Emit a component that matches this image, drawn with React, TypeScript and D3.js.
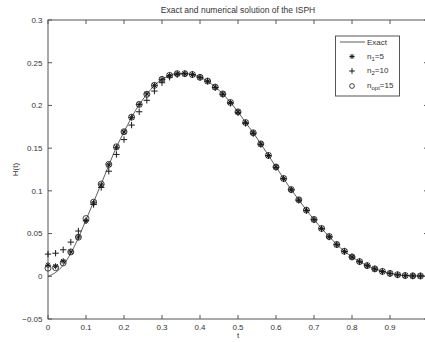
import React from "react";
import * as d3 from "d3";

const tGrid = [0, 0.02, 0.04, 0.06, 0.08, 0.1, 0.12, 0.14, 0.16, 0.18, 0.2, 0.22, 0.24, 0.26, 0.28, 0.3, 0.32, 0.34, 0.36, 0.38, 0.4, 0.42, 0.44, 0.46, 0.48, 0.5, 0.52, 0.54, 0.56, 0.58, 0.6, 0.62, 0.64, 0.66, 0.68, 0.7, 0.72, 0.74, 0.76, 0.78, 0.8, 0.82, 0.84, 0.86, 0.88, 0.9, 0.92, 0.94, 0.96, 0.98, 1.0];

const exactValues = [0, 0.0045, 0.013, 0.027, 0.045, 0.066, 0.087, 0.108, 0.130, 0.151, 0.169, 0.186, 0.201, 0.213, 0.2235, 0.2305, 0.235, 0.2372, 0.2372, 0.236, 0.233, 0.2285, 0.2215, 0.2135, 0.2035, 0.1925, 0.180, 0.168, 0.155, 0.1415, 0.128, 0.1145, 0.1015, 0.0895, 0.0775, 0.0665, 0.056, 0.0465, 0.0372, 0.0293, 0.0227, 0.0172, 0.0125, 0.0087, 0.0057, 0.0034, 0.0018, 0.0009, 0.0005, 0.0004, 0.0003];

const n1Values = [0.013, 0.0117, 0.0176, 0.0286, 0.046, 0.065, 0.086, 0.107, 0.1305, 0.151, 0.169, 0.186, 0.201, 0.2135, 0.2235, 0.2305, 0.235, 0.237, 0.237, 0.236, 0.2328, 0.2283, 0.2213, 0.2133, 0.2033, 0.1923, 0.1798, 0.1678, 0.1548, 0.1413, 0.1278, 0.1143, 0.1013, 0.0893, 0.0773, 0.0663, 0.0558, 0.0463, 0.037, 0.0291, 0.0225, 0.017, 0.0123, 0.0085, 0.0055, 0.0032, 0.0016, 0.0007, 0.0004, 0.0003];

const n2Values = [0.026, 0.027, 0.031, 0.040, 0.053, 0.065, 0.084, 0.104, 0.123, 0.1426, 0.160, 0.177, 0.1926, 0.206, 0.2168, 0.2266, 0.233, 0.236, 0.237, 0.2362, 0.233, 0.2285, 0.221, 0.213, 0.2025, 0.1915, 0.179, 0.167, 0.1545, 0.141, 0.1275, 0.114, 0.101, 0.089, 0.077, 0.066, 0.0555, 0.046, 0.037, 0.0292, 0.0226, 0.0171, 0.0124, 0.0086, 0.0056, 0.0033, 0.0017, 0.0008, 0.0005, 0.0004];

const noptValues = [0.0095, 0.010, 0.0157, 0.0285, 0.0457, 0.0676, 0.0868, 0.108, 0.131, 0.1516, 0.1692, 0.1863, 0.2012, 0.213, 0.2235, 0.2305, 0.2352, 0.2372, 0.2372, 0.2362, 0.233, 0.2285, 0.2215, 0.2135, 0.2035, 0.1925, 0.18, 0.168, 0.155, 0.1415, 0.128, 0.1145, 0.1015, 0.0895, 0.0775, 0.0665, 0.056, 0.0465, 0.0372, 0.0293, 0.0227, 0.0172, 0.0125, 0.0087, 0.0057, 0.0034, 0.0018, 0.0009, 0.0005, 0.0004];

const xTicks = [0, 0.1, 0.2, 0.3, 0.4, 0.5, 0.6, 0.7, 0.8, 0.9, 1.0];
const xTickLabels = ["0", "0.1", "0.2", "0.3", "0.4", "0.5", "0.6", "0.7", "0.8", "0.9", ""];
const yTicks = [-0.05, 0, 0.05, 0.1, 0.15, 0.2, 0.25, 0.3];
const yTickLabels = ["\u22120.05", "0", "0.05", "0.1", "0.15", "0.2", "0.25", "0.3"];

const FONT = "'Liberation Sans', Arial, sans-serif";
const AXIS = "#555";
const TEXT = "#333";
const MARK = "#1a1a1a";

const Star = ({ cx, cy, r }: { cx: number; cy: number; r: number }) => {
  const d = r * 0.72;
  return (
    <g stroke={MARK} strokeWidth={1}>
      <line x1={cx - r} y1={cy} x2={cx + r} y2={cy} />
      <line x1={cx} y1={cy - r} x2={cx} y2={cy + r} />
      <line x1={cx - d} y1={cy - d} x2={cx + d} y2={cy + d} />
      <line x1={cx - d} y1={cy + d} x2={cx + d} y2={cy - d} />
    </g>
  );
};

const Plus = ({ cx, cy, r }: { cx: number; cy: number; r: number }) => (
  <g stroke={MARK} strokeWidth={1}>
    <line x1={cx - r} y1={cy} x2={cx + r} y2={cy} />
    <line x1={cx} y1={cy - r} x2={cx} y2={cy + r} />
  </g>
);

const Circ = ({ cx, cy, r }: { cx: number; cy: number; r: number }) => (
  <circle cx={cx} cy={cy} r={r} fill="none" stroke={MARK} strokeWidth={0.8} />
);

export default function App() {
  const W = 425;
  const H = 342;
  const x = d3.scaleLinear().domain([0, 1]).range([48, 428]);
  const y = d3.scaleLinear().domain([-0.05, 0.3]).range([319, 20]);

  const line = d3
    .line<number>()
    .x((_, i) => x(tGrid[i]))
    .y((v) => y(v))
    .curve(d3.curveMonotoneX);

  const x0 = x(0), x1 = x(1), y0 = y(-0.05), y1 = y(0.3);
  const tl = 4;

  return (
    <svg width={W} height={H} style={{ position: "absolute", left: 0, top: 0, background: "#fff" }} fontFamily={FONT}>
      <rect x={0} y={0} width={W} height={H} fill="#fff" />
      <text x={(x0 + x1) / 2} y={13} textAnchor="middle" fontSize={8.5} fill={TEXT}>
        Exact and numerical solution of the ISPH
      </text>

      {/* axes box */}
      <rect x={x0} y={y1} width={x1 - x0} height={y0 - y1} fill="none" stroke={AXIS} strokeWidth={1} />
      {xTicks.map((t, i) => (
        <g key={"xt" + i}>
          <line x1={x(t)} x2={x(t)} y1={y0} y2={y0 - tl} stroke={AXIS} strokeWidth={1} />
          <line x1={x(t)} x2={x(t)} y1={y1} y2={y1 + tl} stroke={AXIS} strokeWidth={1} />
          {xTickLabels[i] && (
            <text x={x(t)} y={329.5} textAnchor="middle" fontSize={8} fill={TEXT}>
              {xTickLabels[i]}
            </text>
          )}
        </g>
      ))}
      {yTicks.map((v, i) => (
        <g key={"yt" + i}>
          <line x1={x0} x2={x0 + tl} y1={y(v)} y2={y(v)} stroke={AXIS} strokeWidth={1} />
          <line x1={x1} x2={x1 - tl} y1={y(v)} y2={y(v)} stroke={AXIS} strokeWidth={1} />
          <text x={42.5} y={y(v)} dy="0.35em" textAnchor="end" fontSize={8} fill={TEXT}>
            {yTickLabels[i]}
          </text>
        </g>
      ))}
      <text x={(x0 + x1) / 2} y={338} textAnchor="middle" fontSize={8} fill={TEXT}>t</text>
      <text transform={`translate(18,${(y0 + y1) / 2}) rotate(-90)`} textAnchor="middle" fontSize={8} fill={TEXT}>
        H(t)
      </text>

      {/* exact */}
      <path d={line(exactValues) || ""} fill="none" stroke="#333" strokeWidth={0.8} />

      {n1Values.map((v, i) => (
        <Star key={"a" + i} cx={x(tGrid[i])} cy={y(v)} r={3} />
      ))}
      {n2Values.map((v, i) => (
        <Plus key={"b" + i} cx={x(tGrid[i])} cy={y(v)} r={3.2} />
      ))}
      {noptValues.map((v, i) => (
        <Circ key={"c" + i} cx={x(tGrid[i])} cy={y(v)} r={3} />
      ))}

      {/* legend */}
      <rect x={335.5} y={36} width={64} height={60} fill="#fff" stroke={AXIS} strokeWidth={1} />
      <line x1={340} x2={365} y1={42} y2={42} stroke="#333" strokeWidth={0.8} />
      <text x={367} y={42} dy="0.35em" fontSize={8} fill={TEXT}>Exact</text>
      <Star cx={352} cy={56.5} r={2.6} />
      <text x={367} y={56} dy="0.35em" fontSize={8} fill={TEXT}>
        n<tspan fontSize={6} dy={2}>1</tspan><tspan dy={-2}>=5</tspan>
      </text>
      <Plus cx={352} cy={71} r={2.8} />
      <text x={367} y={70.5} dy="0.35em" fontSize={8} fill={TEXT}>
        n<tspan fontSize={6} dy={2}>2</tspan><tspan dy={-2}>=10</tspan>
      </text>
      <Circ cx={352} cy={86} r={2.4} />
      <text x={367} y={85.5} dy="0.35em" fontSize={8} fill={TEXT}>
        n<tspan fontSize={6} dy={2}>opt</tspan><tspan dy={-2}>=15</tspan>
      </text>
    </svg>
  );
}
